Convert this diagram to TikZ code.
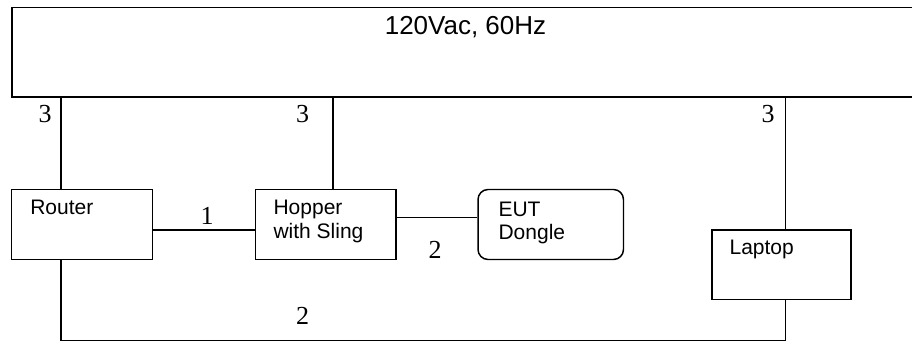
\documentclass[tikz,border=0pt]{standalone}
\usepackage{fontspec}
\setmainfont{Liberation Serif}
\newfontfamily\arialfont{Liberation Sans}
\begin{document}
\begin{tikzpicture}[x=0.75pt,y=-0.75pt,
  boxshape/.style={draw,line width=1.1pt,inner sep=0pt,rectangle},
  wire/.style={line width=1.1pt},
  boxtext/.style={inner sep=0pt,anchor=base west,font=\arialfont\fontsize{15.75pt}{18pt}\selectfont},
  numlabel/.style={inner sep=0pt,anchor=base,font=\fontsize{19.5pt}{22pt}\selectfont}]
\useasboundingbox (0,0) rectangle (912,341);
% power strip
\node[boxshape,line width=1.4pt,minimum width=688.5pt,minimum height=67.35pt] (power) at (471,52.4) {};
\node[inner sep=0pt,anchor=base,font=\arialfont\fontsize{19.5pt}{22pt}\selectfont] (powertxt) at (465.5,35) {120Vac, 60Hz};
% boxes
\node[boxshape,minimum width=105.45pt,minimum height=52.5pt] (router) at (82,224.5) {};
\node[boxshape,minimum width=105.2pt,minimum height=52.5pt] (hopper) at (325.85,224.5) {};
\node[boxshape,rounded corners=7.5pt,minimum width=109.1pt,minimum height=52.5pt] (eut) at (550.75,224.5) {};
\node[boxshape,minimum width=104.25pt,minimum height=52.1pt] (laptop) at (781.5,264.75) {};
% box texts
\node[boxtext] (routertxt) at (30,215) {Router};
\node[boxtext] (hoppertxt1) at (273.3,215) {Hopper};
\node[boxtext] (hoppertxt2) at (273.3,239) {with Sling};
\node[boxtext] (euttxt1) at (498.3,216.5) {EUT};
\node[boxtext] (euttxt2) at (498.3,240) {Dongle};
\node[boxtext] (laptoptxt) at (729.3,254.3) {Laptop};
% connector anchors
\coordinate (rtop) at ([xshift=-15.75pt]router.north);
\coordinate (htop) at ([xshift=5.4pt]hopper.north);
\coordinate (ltop) at ([xshift=3pt]laptop.north);
\coordinate (rbot) at ([xshift=-15.75pt]router.south);
\coordinate (lbot) at ([xshift=3pt]laptop.south);
\coordinate (bus) at (0,340.8);
% connectors
\draw[wire] (rtop) -- (rtop |- power.south);
\draw[wire] (htop) -- (htop |- power.south);
\draw[wire] (ltop) -- (ltop |- power.south);
\draw[wire] ([yshift=-4.1pt]router.east) -- ([yshift=-4.1pt]router.east -| hopper.west);
\draw[wire] ([yshift=5.25pt]hopper.east) -- ([yshift=5.25pt]hopper.east -| eut.west);
\draw[wire] (rbot) -- (rbot |- bus) -- (lbot |- bus) -- (lbot);
% labels
\node[numlabel] (n3a) at (45,123) {3};
\node[numlabel] (n3b) at (302.5,123) {3};
\node[numlabel] (n3c) at (768,123) {3};
\node[numlabel] (n1) at (207,225) {1};
\node[numlabel] (n2a) at (435,259) {2};
\node[numlabel] (n2b) at (302.5,325) {2};
\end{tikzpicture}
\end{document}
